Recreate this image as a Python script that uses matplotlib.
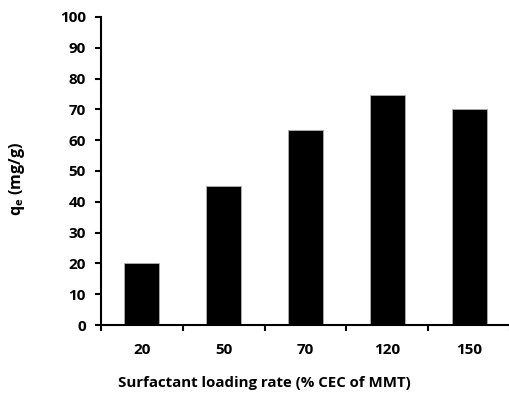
import matplotlib
matplotlib.use('Agg')
import matplotlib.pyplot as plt
import numpy as np

loading = ['20', '50', '70', '120', '150']
qe = [20.3, 45.0, 63.2, 74.6, 70.0]

plt.rcParams['font.family'] = ['Open Sans', 'DejaVu Sans']
plt.rcParams['font.weight'] = 'bold'

fig = plt.figure(figsize=(5.10, 3.94), dpi=100)
ax = fig.add_axes([0.198, 0.175, 0.802, 0.782])

x = np.arange(len(loading))
ax.bar(x, qe, width=0.43, color='black', edgecolor='#b0b0b0', linewidth=0.6)

ax.set_xlim(-0.5, len(loading) - 0.5)
ax.set_ylim(0, 100)
ax.set_yticks(np.arange(0, 101, 10))
ax.set_xticks(x)
ax.set_xticklabels(loading)
ax.set_xticks(np.arange(-0.5, len(loading), 1), minor=True)
ax.tick_params(axis='x', which='major', length=0, pad=13, labelsize=11)
ax.tick_params(axis='x', which='minor', length=4, width=1.5, direction='out')
ax.tick_params(axis='y', length=4, width=1.5, direction='out', labelsize=11, pad=7)
for lab in ax.get_xticklabels() + ax.get_yticklabels():
    lab.set_fontweight('bold')

ax.spines['top'].set_visible(False)
ax.spines['right'].set_visible(False)
ax.spines['left'].set_linewidth(1.5)
ax.spines['bottom'].set_linewidth(1.5)

ax.set_xlabel('Surfactant loading rate (% CEC of MMT)', fontsize=10.8, fontweight='bold')
ax.xaxis.set_label_coords(0.40, -0.188)
ax.set_ylabel('q$_\\mathregular{e}$ (mg/g)', fontsize=11.5, fontweight='bold')
ax.yaxis.set_label_coords(-0.205, 0.474)
ax.yaxis.label.set_va('center')
ax.xaxis.label.set_va('center')

fig.savefig('out.png', dpi=100)
